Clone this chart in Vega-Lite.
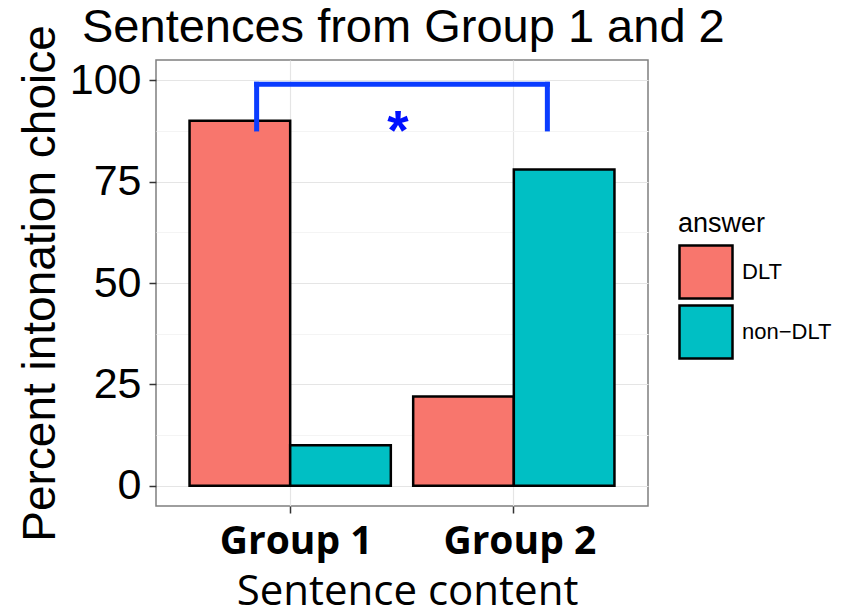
{
  "$schema": "https://vega.github.io/schema/vega-lite/v6.json",
  "width": 492,
  "height": 446,
  "autosize": {"type": "none"},
  "padding": {"left": 156, "top": 60, "right": 202, "bottom": 109},
  "background": "white",
  "title": {
    "text": "Sentences from Group 1 and 2",
    "anchor": "start",
    "frame": "group",
    "dx": -74,
    "dy": 64,
    "baseline": "alphabetic",
    "offset": 0,
    "fontSize": 47,
    "font": "Liberation Sans",
    "fontWeight": "normal",
    "color": "black"
  },
  "config": {
    "view": {"stroke": "#7f7f7f", "strokeWidth": 1.5},
    "axis": {"domain": false, "tickColor": "#333333", "tickSize": 7, "tickWidth": 1.5, "gridColor": "#e5e5e5", "gridWidth": 1.2}
  },
  "layer": [
    {
      "data": {
        "values": [
          {"group": "Group 1", "answer": "DLT", "percent": 90},
          {"group": "Group 1", "answer": "non-DLT", "percent": 10},
          {"group": "Group 2", "answer": "DLT", "percent": 22},
          {"group": "Group 2", "answer": "non-DLT", "percent": 78}
        ]
      },
      "mark": {"type": "bar", "stroke": "black", "strokeWidth": 2.5},
      "encoding": {
        "x": {
          "field": "group",
          "type": "nominal",
          "scale": {"paddingInner": 0.1, "paddingOuter": 0.15},
          "axis": {
            "title": "Sentence content",
            "labelFont": "Open Sans",
            "labelFontWeight": "bold",
            "labelFontSize": 39,
            "labelColor": "black",
            "labelPadding": 9,
            "labelOffset": 6,
            "labelAngle": 0,
            "grid": true,
            "titleFont": "Open Sans",
            "titleFontWeight": "normal",
            "titleFontSize": 42,
            "titleColor": "black",
            "titleX": 251,
            "titleY": 98,
            "titleBaseline": "alphabetic",
            "titleAlign": "center"
          }
        },
        "xOffset": {"field": "answer", "type": "nominal"},
        "y": {
          "field": "percent",
          "type": "quantitative",
          "stack": null,
          "scale": {"domain": [-5, 105], "nice": false},
          "axis": {
            "title": "Percent intonation choice",
            "values": [0, 12.5, 25, 37.5, 50, 62.5, 75, 87.5, 100],
            "labelExpr": "datum.value % 25 === 0 ? datum.label : ''",
            "labelFont": "Liberation Sans",
            "labelFontSize": 43,
            "labelColor": "black",
            "labelPadding": 8,
            "tickOpacity": {"condition": {"test": "datum.value % 25 === 0", "value": 1}, "value": 0},
            "gridColor": {"condition": {"test": "datum.value % 25 === 0", "value": "#e5e5e5"}, "value": "#f4f4f4"},
            "titleFont": "Liberation Sans",
            "titleFontWeight": "normal",
            "titleFontSize": 46,
            "titleColor": "black",
            "titleAngle": 270,
            "titleX": -102,
            "titleY": 223,
            "titleBaseline": "alphabetic",
            "titleAlign": "center"
          }
        },
        "color": {
          "field": "answer",
          "type": "nominal",
          "scale": {"domain": ["DLT", "non-DLT"], "range": ["#F8766D", "#00BFC4"]},
          "legend": {
            "orient": "none",
            "legendX": 522,
            "legendY": 151,
            "title": "answer",
            "titleFont": "Liberation Sans",
            "titleFontSize": 27,
            "titleFontWeight": "normal",
            "titleColor": "black",
            "titlePadding": 6,
            "labelFont": "Liberation Sans",
            "labelFontSize": 22,
            "labelColor": "black",
            "labelOffset": 8,
            "symbolType": "square",
            "symbolSize": 2809,
            "symbolStrokeColor": "black",
            "symbolStrokeWidth": 2.5,
            "symbolOpacity": 1,
            "rowPadding": -14,
            "labelExpr": "replace(datum.label, '-', '−')"
          }
        }
      }
    },
    {
      "data": {"values": [{"group": "Group 1", "low": 88, "high": 99}]},
      "mark": {"type": "rule", "color": "#0a3cff", "strokeWidth": 5, "strokeCap": "square"},
      "encoding": {
        "x": {"field": "group", "type": "nominal", "bandPosition": 0.3333},
        "y": {"field": "low", "type": "quantitative"},
        "y2": {"field": "high"}
      }
    },
    {
      "data": {"values": [{"group": "Group 2", "low": 88, "high": 99}]},
      "mark": {"type": "rule", "color": "#0a3cff", "strokeWidth": 5, "strokeCap": "square"},
      "encoding": {
        "x": {"field": "group", "type": "nominal", "bandPosition": 0.6667},
        "y": {"field": "low", "type": "quantitative"},
        "y2": {"field": "high"}
      }
    },
    {
      "data": {"values": [{"from": "Group 1", "to": "Group 2", "high": 99}]},
      "mark": {"type": "rule", "color": "#0a3cff", "strokeWidth": 5, "strokeCap": "square"},
      "encoding": {
        "x": {"field": "from", "type": "nominal", "bandPosition": 0.3333},
        "x2": {"field": "to", "bandPosition": 0.6667},
        "y": {"field": "high", "type": "quantitative"}
      }
    },
    {
      "data": {"values": [{"group": "Group 1", "sig": "*", "percent": 83}]},
      "mark": {"type": "text", "color": "#0010ff", "fontSize": 55, "fontWeight": "bold", "font": "Liberation Sans", "baseline": "alphabetic", "align": "center"},
      "encoding": {
        "x": {"field": "group", "type": "nominal", "bandPosition": 1.036},
        "y": {"field": "percent", "type": "quantitative"},
        "text": {"field": "sig"}
      }
    }
  ]
}
